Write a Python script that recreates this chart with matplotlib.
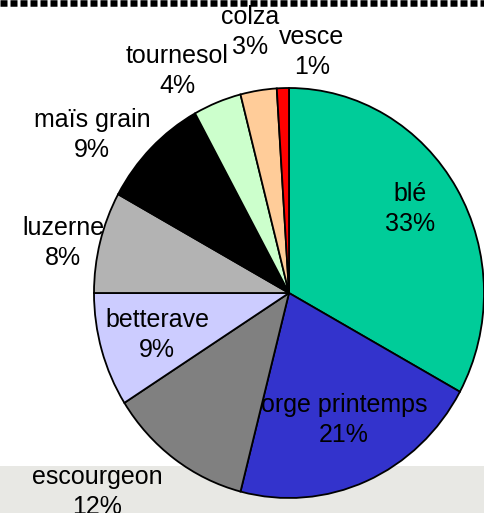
import matplotlib.pyplot as plt
from matplotlib.patches import Rectangle

plt.rcParams['font.family'] = ['Liberation Sans', 'DejaVu Sans']
plt.rcParams['lines.scale_dashes'] = False

# assolement (%)
cultures = ['blé', 'orge printemps', 'escourgeon', 'betterave', 'luzerne',
            'maïs grain', 'tournesol', 'colza', 'vesce']
parts = [33, 21, 12, 9, 8, 9, 4, 3, 1]
couleurs = ['#00CC99', '#3333CC', '#808080', '#CCCCFF', '#B3B3B3',
            '#000000', '#CCFFCC', '#FFCC99', '#FF0000']

# centre des étiquettes, en pixels de l'image
pos_etiq = [(410, 209), (344, 420), (97, 492), (157, 335), (63, 243),
            (92, 135), (177, 71), (250, 32), (312, 52)]

W, H = 485, 513
cx, cy = 289, 293      # centre du camembert
rx, ry = 195, 205      # un peu ovale
k = rx / ry


def to_data(x, y):
    # pixels image -> coordonnées de l'axe
    return x, (H - y) * k


fig = plt.figure(figsize=(W / 100, H / 100), dpi=100)
ax = fig.add_axes([0, 0, 1, 1])

# bande grise en bas
ax.add_patch(Rectangle((0, 0), W, (H - 466) * k, facecolor='#E8E8E4',
                       edgecolor='none', zorder=0))

ax.pie(parts, colors=couleurs, startangle=90, counterclock=False,
       center=to_data(cx, cy), radius=rx, frame=True,
       wedgeprops=dict(edgecolor='black', linewidth=1.3, zorder=1))

# pointillés en haut
ax.plot([0, W], [(H - 3.2) * k] * 2, color='black', lw=6.5 * 0.72,
        dashes=(7 * 0.72, 3 * 0.72), dash_capstyle='butt', zorder=2)

for nom, p, (x, y) in zip(cultures, parts, pos_etiq):
    ax.text(*to_data(x, y), f'{nom}\n{p}%', ha='center', va='center',
            fontsize=18, linespacing=1.33, color='black', zorder=3)

ax.set_xlim(0, W)
ax.set_ylim(0, H * k)
ax.set_aspect('auto')
ax.axis('off')

fig.savefig('out.png', dpi=100)
